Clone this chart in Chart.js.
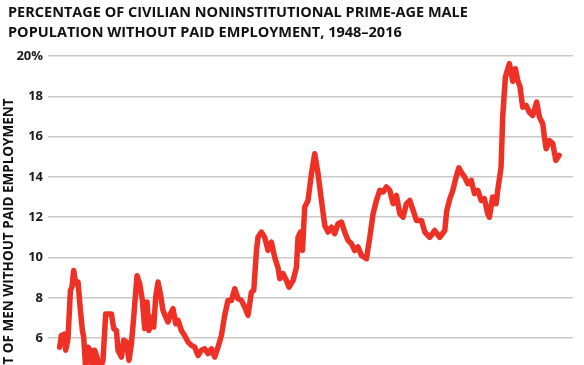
<!DOCTYPE html>
<html>
<head>
<meta charset="utf-8">
<script src="https://cdn.jsdelivr.net/npm/chart.js@4.4.0/dist/chart.umd.min.js"></script>
<style>
  html, body { margin: 0; padding: 0; background: #fff; overflow: hidden; }
  #wrap { position: relative; width: 584px; height: 500px; }
  #title {
    position: absolute; left: 8px; top: 2px;
    font-family: 'Open Sans', sans-serif; font-weight: 700; font-size: 14.5px;
    line-height: 20px; color: #111; white-space: nowrap;
  }
</style>
</head>
<body>
<div id="wrap">
  <div id="title">PERCENTAGE OF CIVILIAN NONINSTITUTIONAL PRIME-AGE MALE<br>POPULATION WITHOUT PAID EMPLOYMENT, 1948–2016</div>
  <canvas id="chart" width="584" height="500"></canvas>
</div>
<script>
const years = [
  1948.00, 1948.23, 1948.68, 1948.82, 1949.14, 1949.47, 1949.68, 1949.92, 1950.19, 1950.51,
  1950.84, 1951.11, 1951.29, 1951.56, 1951.88, 1952.21, 1952.48, 1952.79, 1953.11, 1953.48,
  1953.93, 1954.30, 1955.08, 1955.40, 1955.77, 1955.99, 1956.45, 1956.77, 1957.14, 1957.49,
  1957.82, 1958.14, 1958.59, 1958.96, 1959.33, 1959.64, 1959.96, 1960.23, 1960.56, 1960.88,
  1961.15, 1961.47, 1961.79, 1962.15, 1962.52, 1962.84, 1963.16, 1963.52, 1963.89, 1964.21,
  1964.67, 1965.12, 1965.58, 1966.04, 1966.49, 1966.95, 1967.41, 1967.86, 1968.32, 1968.78,
  1969.23, 1969.68, 1970.15, 1970.60, 1971.05, 1971.52, 1971.97, 1972.42, 1972.89, 1973.34,
  1973.79, 1974.26, 1974.58, 1974.95, 1975.16, 1975.63,
  1976.08, 1976.53, 1976.99, 1977.45, 1977.90, 1978.14, 1978.59, 1979.05, 1979.41, 1979.96,
  1980.42, 1980.64, 1980.97, 1981.25, 1981.56, 1982.01, 1982.48, 1982.93, 1983.38, 1983.85,
  1984.30, 1984.75, 1985.22, 1985.67, 1986.12, 1986.59, 1987.04, 1987.49, 1987.96, 1988.41,
  1988.86, 1989.33, 1990.01, 1990.47, 1990.92, 1991.38, 1991.84, 1992.29, 1992.75, 1993.21,
  1993.66, 1994.12, 1994.58, 1995.03, 1995.49, 1995.95, 1996.40, 1996.86, 1997.55, 1998.00,
  1998.68, 1999.37, 2000.05, 2000.74, 2001.00, 2001.42, 2001.84, 2002.30, 2002.67, 2002.99,
  2003.44, 2003.90, 2004.36, 2004.81, 2005.26, 2005.73, 2006.16, 2006.62, 2006.85, 2007.30,
  2007.77, 2007.99, 2008.45, 2008.67, 2009.04, 2009.59, 2010.05, 2010.41, 2010.73, 2011.05,
  2011.41, 2011.88, 2012.33, 2012.78, 2013.33, 2013.70, 2014.16, 2014.38, 2014.62, 2015.07,
  2015.53, 2015.95, 2016.40
];
const shares = [
  5.55, 6.13, 6.20, 5.40, 5.97, 8.37, 8.53, 9.36, 8.70, 8.78,
  7.37, 6.38, 6.05, 4.50, 5.55, 5.40, 4.50, 5.40, 5.06, 4.40,
  4.90, 7.20, 7.20, 6.47, 6.38, 5.40, 5.06, 5.89, 5.80, 4.90,
  5.72, 7.04, 9.10, 8.70, 7.87, 6.47, 7.79, 6.38, 7.04, 6.55,
  8.03, 8.78, 8.20, 7.37, 7.04, 6.80, 7.20, 7.46, 6.71, 6.88,
  6.38, 6.13, 5.80, 5.64, 5.55, 5.14, 5.40, 5.47, 5.23, 5.47,
  5.06, 5.55, 6.13, 7.13, 7.87, 7.87, 8.45, 7.96, 7.87, 7.54,
  7.13, 8.28, 8.37, 10.35, 11.00, 11.26,
  11.00, 10.35, 10.77, 10.00, 9.50, 8.95, 9.20, 8.86, 8.53, 8.86,
  9.50, 11.00, 11.26, 10.35, 12.50, 12.83, 14.16, 15.15, 14.16, 12.83,
  11.60, 11.26, 11.50, 11.18, 11.68, 11.76, 11.26, 10.85, 10.68, 10.35,
  10.52, 10.10, 9.94, 11.00, 12.17, 12.83, 13.33, 13.25, 13.50, 13.33,
  12.67, 13.08, 12.17, 12.00, 12.67, 12.83, 12.34, 11.84, 11.84, 11.26,
  11.00, 11.34, 11.00, 11.34, 12.30, 12.90, 13.33, 14.00, 14.45, 14.24,
  14.00, 13.66, 13.83, 13.17, 13.33, 12.83, 12.92, 12.17, 12.00, 13.00,
  12.67, 13.33, 14.49, 16.97, 18.95, 19.62, 18.75, 19.37, 18.79, 18.46,
  17.46, 17.55, 17.21, 17.05, 17.71, 16.97, 16.64, 15.98, 15.40, 15.80,
  15.65, 14.82, 15.07
];
const yTicks = [0, 2, 4, 6, 8, 10, 12, 14, 16, 18, 20];

const points = years.map((y, i) => ({ x: y, y: shares[i] }));

new Chart(document.getElementById('chart').getContext('2d'), {
  type: 'line',
  data: {
    datasets: [{
      data: points,
      borderColor: '#ee3124',
      borderWidth: 5.5,
      borderJoinStyle: 'round',
      borderCapStyle: 'round',
      pointRadius: 0,
      tension: 0,
      fill: false
    }]
  },
  options: {
    responsive: false,
    animation: false,
    layout: { padding: { top: 56, right: 11, bottom: 41, left: 0 } },
    plugins: {
      legend: { display: false },
      tooltip: { enabled: false }
    },
    scales: {
      x: {
        type: 'linear',
        display: false,
        min: 1946.4,
        max: 2018.3
      },
      y: {
        min: 0,
        max: 20,
        afterBuildTicks: (scale) => { scale.ticks = yTicks.map(v => ({ value: v })); },
        afterFit: (scale) => { scale.width = 48; },
        border: { display: false },
        grid: { color: '#c9c9c9', lineWidth: 1.5, drawTicks: false },
        ticks: {
          padding: 5,
          color: '#1a1a1a',
          font: { family: "'Open Sans', sans-serif", size: 13, weight: 'bold' },
          callback: (v) => v === 20 ? '20%' : v
        },
        title: {
          display: true,
          text: 'PERCENT OF MEN WITHOUT PAID EMPLOYMENT',
          color: '#111',
          font: { family: "'Open Sans', sans-serif", size: 13.5, weight: 'bold' },
          padding: { top: 1, bottom: 0 }
        }
      }
    }
  }
});
</script>
</body>
</html>
